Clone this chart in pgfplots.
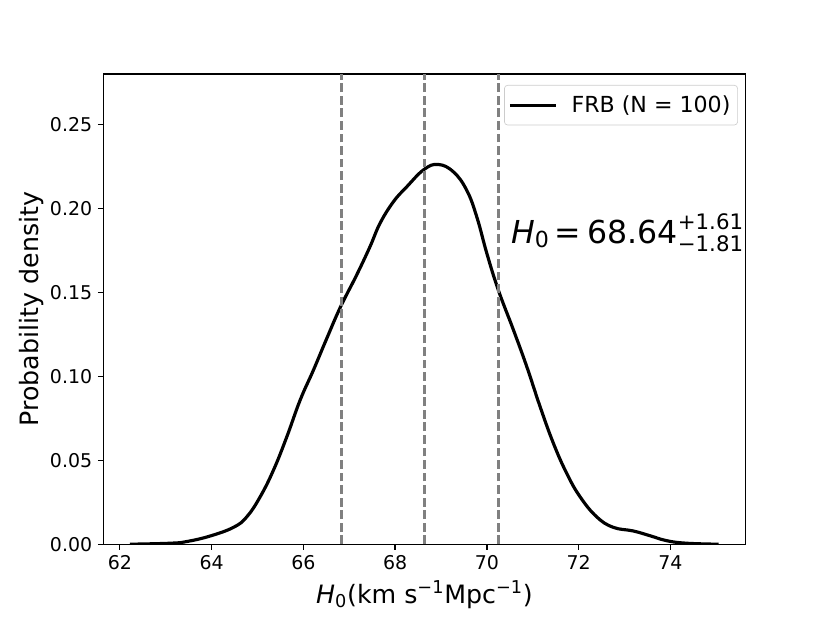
\documentclass[border=0pt]{standalone}
\usepackage{fontspec}
\setmainfont{DejaVu Sans}
\usepackage{pgfplots}
\pgfplotsset{compat=1.18}

\begin{document}
\begin{tikzpicture}
\path[use as bounding box] (-65.4pt,-49.8pt) rectangle (460pt,344.5pt);
\begin{axis}[
    at={(0pt,0pt)}, anchor=south west,
    scale only axis,
    width=406.6pt, height=297.7pt,
    xmin=61.64, xmax=75.64,
    ymin=0, ymax=0.28,
    xtick={62,64,...,74},
    ytick={0,0.05,0.10,0.15,0.20,0.25},
    tick pos=left,
    tick align=outside,
    major tick length=3.5pt,
    every tick/.style={black, line width=0.8pt},
    axis line style={line width=0.8pt},
    /pgf/number format/assume math mode=true,
    ticklabel style={font=\fontsize{12}{14}\selectfont},
    yticklabel style={/pgf/number format/.cd, fixed, fixed zerofill, precision=2},
    xticklabel style={/pgf/number format/.cd, fixed, precision=0},
    xlabel={\textit{H}\textsubscript{0}(km s\textsuperscript{−1}Mpc\textsuperscript{−1})},
    ylabel={Probability density},
    xlabel style={at={(axis description cs:0.5,-0.1256)}, anchor=base, font=\fontsize{16}{19}\selectfont},
    ylabel style={at={(axis description cs:-0.1117,0.5)}, anchor=center, rotate=0, font=\fontsize{16}{19}\selectfont},
    legend style={at={(rel axis cs:1,1)}, anchor=north east, xshift=-4.9pt, yshift=-7pt,
        draw=black!20, rounded corners=2pt, fill=white, fill opacity=0.8, text opacity=1,
        font=\fontsize{14}{16}\selectfont, inner xsep=2.5pt, inner ysep=4.5pt},
    legend cell align=left,
    legend image code/.code={\draw[#1] (0pt,0pt) -- (29pt,0pt); \path (36pt,0pt);},
]
% posterior density of H0
\addplot[black, line width=2pt, smooth, tension=0.7] coordinates {
    (62.22,0) (63.10,0.0006) (63.46,0.0016) (63.97,0.0049) (64.48,0.0101)
    (64.77,0.0164) (65.06,0.0283) (65.35,0.0442) (65.64,0.0640) (65.93,0.0858)
    (66.22,0.1037) (66.51,0.1225) (66.81,0.1413) (67.16,0.1602) (67.45,0.1770)
    (67.67,0.1910) (67.96,0.2038) (68.25,0.2127) (68.63,0.2231) (68.94,0.2261)
    (69.27,0.2217) (69.56,0.2108) (69.78,0.1949) (70.00,0.1731) (70.25,0.1513)
    (70.58,0.1275) (70.87,0.1057) (71.16,0.0819) (71.45,0.0601) (71.74,0.0422)
    (72.03,0.0283) (72.39,0.0164) (72.75,0.0101) (73.19,0.0079) (73.55,0.0051)
    (73.92,0.0021) (74.35,0.0006) (75.05,0)
};
\addlegendentry{FRB (N = 100)}
% median and 1-sigma bounds
\addplot[gray, line width=1.5pt, dash pattern=on 5.55pt off 2.4pt, forget plot] coordinates {(66.83,0) (66.83,0.28)};
\addplot[gray, line width=1.5pt, dash pattern=on 5.55pt off 2.4pt, forget plot] coordinates {(68.64,0) (68.64,0.28)};
\addplot[gray, line width=1.5pt, dash pattern=on 5.55pt off 2.4pt, forget plot] coordinates {(70.25,0) (70.25,0.28)};
\node[anchor=base west, inner sep=0pt, font=\fontsize{20}{24}\selectfont] at (axis cs:70.52,0.179)
    {\textit{H}\raisebox{-2.8pt}{\fontsize{14}{14}\selectfont 0}\hspace{3.8pt}=\hspace{3.8pt}68.64\rlap{\raisebox{8.9pt}{\fontsize{13.5}{13.5}\selectfont +1.61}}\raisebox{-4.8pt}{\fontsize{13.5}{13.5}\selectfont −1.81}};
\end{axis}
\end{tikzpicture}
\end{document}
